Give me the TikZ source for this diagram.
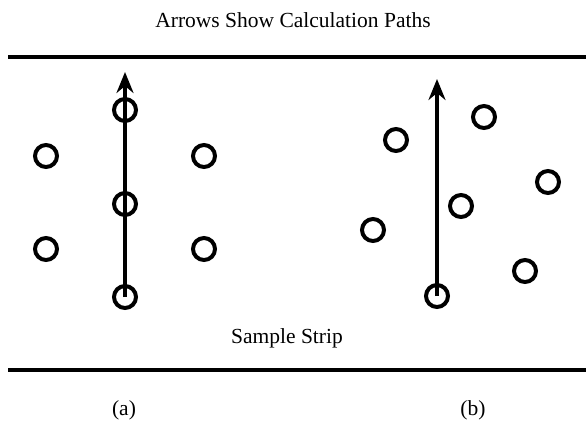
\documentclass[tikz,border=0pt]{standalone}
\usepackage{fontspec}
\setmainfont{Liberation Serif}
\usetikzlibrary{arrows.meta}
\begin{document}
\begin{tikzpicture}[x=1pt,y=-1pt,
  strip/.style={line width=4pt},
  pt/.style={circle,draw,line width=4pt,minimum size=22pt,inner sep=0pt},
  path/.style={line width=3.5pt,-{Stealth[length=21pt,width=17pt,inset=7pt]}},
  lbl/.style={font=\fontsize{21.5}{24}\selectfont}]
\useasboundingbox (0,0) rectangle (586,421);
\draw[strip] (8,57) -- (586,57);
\draw[strip] (8,370) -- (586,370);
\node[lbl] (title) at (293,20) {Arrows Show Calculation Paths};
\node[lbl] (strip) at (287,338) {Sample Strip};
\node[lbl] (la) at (124,410) {(a)};
\node[lbl] (lb) at (473,410) {(b)};
% (a)
\node[pt] (a1) at (46,156) {};
\node[pt] (a2) at (125,110) {};
\node[pt] (a3) at (204,156) {};
\node[pt] (a4) at (125,204) {};
\node[pt] (a5) at (46,249) {};
\node[pt] (a6) at (204,249) {};
\node[pt] (a7) at (125,297) {};
\coordinate (atop) at (125,72);
\draw[path] (a7.center) -- (atop);
% (b)
\node[pt] (b1) at (396,140) {};
\node[pt] (b2) at (484,117) {};
\node[pt] (b3) at (548,182) {};
\node[pt] (b4) at (461,206) {};
\node[pt] (b5) at (373,230) {};
\node[pt] (b6) at (525,271) {};
\node[pt] (b7) at (437,296) {};
\coordinate (btop) at (437,79);
\draw[path] (b7.center) -- (btop);
\end{tikzpicture}
\end{document}
